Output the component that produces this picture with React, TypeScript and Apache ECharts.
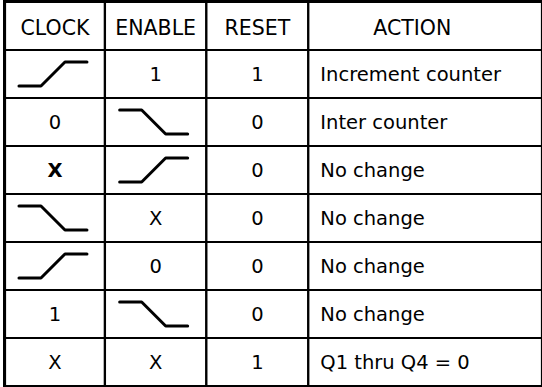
import React, { useEffect, useRef } from "react";
import * as echarts from "echarts";

// ---- Table content ----
const HEADERS = ["CLOCK", "ENABLE", "RESET", "ACTION"];
const CLOCK = ["rise", "0", "X", "fall", "rise", "1", "X"];
const ENABLE = ["1", "fall", "rise", "X", "0", "fall", "X"];
const RESET = ["1", "0", "0", "0", "0", "0", "1"];
const ACTION = [
  "Increment counter",
  "Inter counter",
  "No change",
  "No change",
  "No change",
  "No change",
  "Q1 thru Q4 = 0",
];
// body row / column of the one bold glyph
const BOLD_CELLS = [[2, 0]];

// ---- Layout (not data) ----
const COL_W = [100.5, 102, 102.5, 235];
const COL_START = COL_W.map((_, i) => COL_W.slice(0, i).reduce((a, b) => a + b, 0));
const TOTAL_W = COL_W.reduce((a, b) => a + b, 0);
const N_ROWS = ACTION.length + 1;
const FONT = "'DejaVu Sans', Verdana, sans-serif";

type Cell = { col: number; row: number; text: string; header: boolean; bold: boolean };

function buildCells(): Cell[] {
  const cells: Cell[] = [];
  HEADERS.forEach((h, c) => cells.push({ col: c, row: 0, text: h, header: true, bold: false }));
  const cols = [CLOCK, ENABLE, RESET, ACTION];
  for (let r = 0; r < ACTION.length; r++) {
    cols.forEach((arr, c) => {
      const bold = BOLD_CELLS.some(([br, bc]) => br === r && bc === c);
      cells.push({ col: c, row: r + 1, text: arr[r], header: false, bold });
    });
  }
  return cells;
}

export default function App() {
  const ref = useRef<HTMLDivElement>(null);

  useEffect(() => {
    document.body.style.margin = "0";
    if (!ref.current) return;
    const chart = echarts.init(ref.current, undefined, { renderer: "svg" });
    const cells = buildCells();

    const renderItem = (params: any, api: any) => {
      const cell = cells[params.dataIndex];
      const x0 = COL_START[cell.col];
      const w = COL_W[cell.col];
      const p0 = api.coord([x0, cell.row]);
      const p1 = api.coord([x0 + w, cell.row + 1]);
      const left = p0[0];
      const top = Math.min(p0[1], p1[1]);
      const width = p1[0] - p0[0];
      const height = Math.abs(p1[1] - p0[1]);
      const cx = left + width / 2;
      const cy = top + height / 2;
      const children: any[] = [
        {
          type: "rect",
          shape: { x: left, y: top, width, height },
          style: { fill: "#fff", stroke: "#000", lineWidth: 2.2 },
        },
      ];
      if (cell.text === "rise" || cell.text === "fall") {
        const rise = cell.text === "rise";
        const lo = cy + 12;
        const hi = cy - 12;
        const a = rise ? lo : hi;
        const b = rise ? hi : lo;
        children.push({
          type: "polyline",
          shape: {
            points: [
              [cx - 36, a],
              [cx - 14, a],
              [cx + 10, b],
              [cx + 32, b],
            ],
          },
          style: { stroke: "#000", lineWidth: 3, fill: null, lineCap: "round", lineJoin: "round" },
        });
      } else {
        let tx = cx;
        let align = "center";
        if (cell.col === 3) {
          if (cell.header) {
            tx = left + 104;
          } else {
            tx = left + 12;
            align = "left";
          }
        }
        children.push({
          type: "text",
          x: tx,
          y: cell.header ? cy + 2 : cy,
          style: {
            text: cell.text,
            align,
            verticalAlign: "middle",
            fontFamily: FONT,
            fontSize: cell.header ? 20.5 : 19.5,
            fontWeight: cell.bold ? "bold" : "normal",
            fill: "#000",
          },
        });
      }
      return { type: "group", children };
    };

    chart.setOption({
      animation: false,
      backgroundColor: "#fff",
      grid: {
        left: 5,
        top: 2,
        width: 540,
        height: 384,
        show: true,
        borderColor: "#000",
        borderWidth: 4,
        backgroundColor: "#fff",
      },
      xAxis: { type: "value", min: 0, max: TOTAL_W, show: false },
      yAxis: { type: "value", min: 0, max: N_ROWS, inverse: true, show: false },
      series: [
        {
          type: "custom",
          renderItem,
          data: cells.map((c) => [c.col, c.row]),
          silent: true,
        },
      ],
    });
    return () => chart.dispose();
  }, []);

  return <div ref={ref} style={{ width: 542, height: 387 }} />;
}
